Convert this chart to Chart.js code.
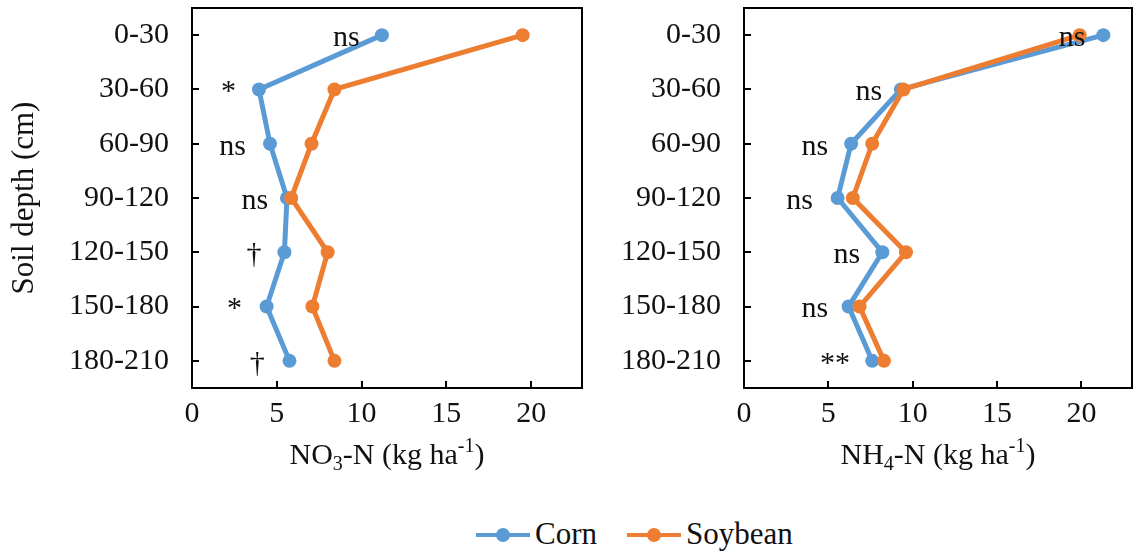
<!DOCTYPE html>
<html>
<head>
<meta charset="utf-8">
<script src="https://cdn.jsdelivr.net/npm/chart.js@4.4.1/dist/chart.umd.min.js"></script>
<style>
  html, body { margin: 0; padding: 0; background: #fff; }
  #wrap { position: relative; width: 1139px; height: 554px; overflow: hidden; font-family: "Liberation Serif", "Times New Roman", serif; }
  canvas { position: absolute; top: 0; }
  .lg-line { position: absolute; height: 4px; }
  .lg-dot { position: absolute; width: 14px; height: 14px; border-radius: 50%; }
  .lg-text { position: absolute; font-size: 31px; line-height: 34px; color: #111; white-space: nowrap; }
</style>
</head>
<body>
<div id="wrap">
  <canvas id="no3" width="600" height="480" style="left:0"></canvas>
  <canvas id="nh4" width="539" height="480" style="left:600px"></canvas>
  <div id="legend"></div>
</div>
<script>
// Soil depth intervals (cm)
const depths = ['0-30', '30-60', '60-90', '90-120', '120-150', '150-180', '180-210'];
// Horizontal axis tick labels (kg ha-1)
const xTicks = [0, 5, 10, 15, 20];

// Nitrate-N by depth
const cornNO3 = [11.2, 3.95, 4.6, 5.6, 5.45, 4.4, 5.75];
const soyNO3  = [19.5, 8.4, 7.05, 5.85, 8.0, 7.1, 8.4];
// Ammonium-N by depth
const cornNH4 = [21.3, 9.3, 6.35, 5.55, 8.2, 6.2, 7.6];
const soyNH4  = [19.9, 9.45, 7.6, 6.45, 9.6, 6.85, 8.3];

// Significance markers per depth, with the x value each is centred on
const sigNO3   = ['ns', '*', 'ns', 'ns', '\u2020', '*', '\u2020'];
const sigNO3At = [9.1, 2.15, 2.4, 3.7, 3.65, 2.5, 3.85];
const sigNH4   = ['ns', 'ns', 'ns', 'ns', 'ns', 'ns', '**'];
const sigNH4At = [19.45, 7.4, 4.2, 3.3, 6.1, 4.2, 5.4];

const seriesNames = ['Corn', 'Soybean'];
const BLUE = '#5b9bd5';
const ORANGE = '#ed7d31';
const FONT = '"Liberation Serif", "Times New Roman", serif';
const TEXT = '#111';

// Frame, inward tick marks, significance labels and the chemical-formula axis title
const framePlugin = {
  id: 'frame',
  afterDatasetsDraw(chart, args, opts) {
    const { ctx, chartArea: a, scales } = chart;
    ctx.save();
    ctx.strokeStyle = '#000';
    ctx.lineWidth = 2;
    ctx.strokeRect(a.left, a.top, a.right - a.left, a.bottom - a.top);
    ctx.beginPath();
    scales.x.ticks.forEach(t => {
      if (t.value === 0) return;
      const px = Math.round(scales.x.getPixelForValue(t.value));
      ctx.moveTo(px, a.bottom);
      ctx.lineTo(px, a.bottom - 7);
    });
    depths.forEach((d, i) => {
      const py = Math.round(scales.y.getPixelForValue(i));
      ctx.moveTo(a.left, py);
      ctx.lineTo(a.left + 7, py);
    });
    ctx.stroke();

    // significance labels
    ctx.fillStyle = TEXT;
    ctx.font = '30px ' + FONT;
    ctx.textAlign = 'center';
    ctx.textBaseline = 'middle';
    opts.labels.forEach((s, i) => {
      const px = scales.x.getPixelForValue(opts.at[i]);
      const py = scales.y.getPixelForValue(i) + 3;
      ctx.fillText(s, px, py);
    });

    // axis title with sub/superscripts
    const parts = opts.title;
    const big = 30, small = 20;
    let w = 0;
    parts.forEach(p => { ctx.font = (p.s ? small : big) + 'px ' + FONT; w += ctx.measureText(p.t).width; });
    let x = (a.left + a.right) / 2 - w / 2;
    const base = a.bottom + 76;
    ctx.textAlign = 'left';
    ctx.textBaseline = 'alphabetic';
    parts.forEach(p => {
      ctx.font = (p.s ? small : big) + 'px ' + FONT;
      const dy = p.s === 'sub' ? 6 : (p.s === 'sup' ? -12 : 0);
      ctx.fillText(p.t, x, base + dy);
      x += ctx.measureText(p.t).width;
    });
    ctx.restore();
  }
};

function makeChart(id, corn, soy, sigs, sigAt, titleParts, yAxisWidth, padRight, showYTitle) {
  return new Chart(document.getElementById(id), {
    type: 'line',
    data: {
      labels: depths,
      datasets: [
        { label: seriesNames[0], data: corn, borderColor: BLUE, backgroundColor: BLUE,
          borderWidth: 5, pointRadius: 7, pointBorderWidth: 0, order: 2 },
        { label: seriesNames[1], data: soy, borderColor: ORANGE, backgroundColor: ORANGE,
          borderWidth: 5, pointRadius: 7, pointBorderWidth: 0, order: 1 }
      ]
    },
    options: {
      indexAxis: 'y',
      responsive: false,
      animation: false,
      devicePixelRatio: 1,
      layout: { padding: { top: 8, right: padRight, left: 0, bottom: 0 } },
      plugins: {
        legend: { display: false },
        tooltip: { enabled: false },
        frame: { labels: sigs, at: sigAt, title: titleParts }
      },
      scales: {
        x: {
          type: 'linear', min: 0, max: 23,
          grid: { display: false }, border: { display: false },
          afterBuildTicks: s => { s.ticks = xTicks.map(v => ({ value: v })); },
          afterFit: s => { s.height = 92; s.paddingLeft = 0; s.paddingRight = 0; },
          ticks: { color: TEXT, font: { family: FONT, size: 30 }, padding: 0, maxRotation: 0 }
        },
        y: {
          type: 'category', offset: true,
          grid: { display: false }, border: { display: false },
          afterFit: s => { s.width = yAxisWidth; s.paddingTop = 0; s.paddingBottom = 0; },
          ticks: { color: TEXT, font: { family: FONT, size: 30 }, padding: 15, crossAlign: 'near' },
          title: { display: showYTitle, text: 'Soil depth (cm)', color: TEXT,
                   font: { family: FONT, size: 31 }, padding: { top: 6, bottom: 0 } }
        }
      }
    },
    plugins: [framePlugin]
  });
}

makeChart('no3', cornNO3, soyNO3, sigNO3, sigNO3At,
  [{ t: 'NO' }, { t: '3', s: 'sub' }, { t: '-N (kg ha' }, { t: '-1', s: 'sup' }, { t: ')' }],
  192, 18, true);
makeChart('nh4', cornNH4, soyNH4, sigNH4, sigNH4At,
  [{ t: 'NH' }, { t: '4', s: 'sub' }, { t: '-N (kg ha' }, { t: '-1', s: 'sup' }, { t: ')' }],
  144, 2, false);

// Legend
const legend = document.getElementById('legend');
const items = [
  { name: seriesNames[0], color: BLUE, x: 476 },
  { name: seriesNames[1], color: ORANGE, x: 627 }
];
items.forEach(it => {
  const cy = 535;
  const line = document.createElement('div');
  line.className = 'lg-line';
  line.style.cssText = `left:${it.x}px;top:${cy - 2}px;width:54px;background:${it.color}`;
  const dot = document.createElement('div');
  dot.className = 'lg-dot';
  dot.style.cssText = `left:${it.x + 27 - 7}px;top:${cy - 7}px;background:${it.color}`;
  const txt = document.createElement('div');
  txt.className = 'lg-text';
  txt.textContent = it.name;
  txt.style.cssText = `left:${it.x + 59}px;top:${cy - 18}px`;
  legend.append(line, dot, txt);
});
</script>
</body>
</html>
